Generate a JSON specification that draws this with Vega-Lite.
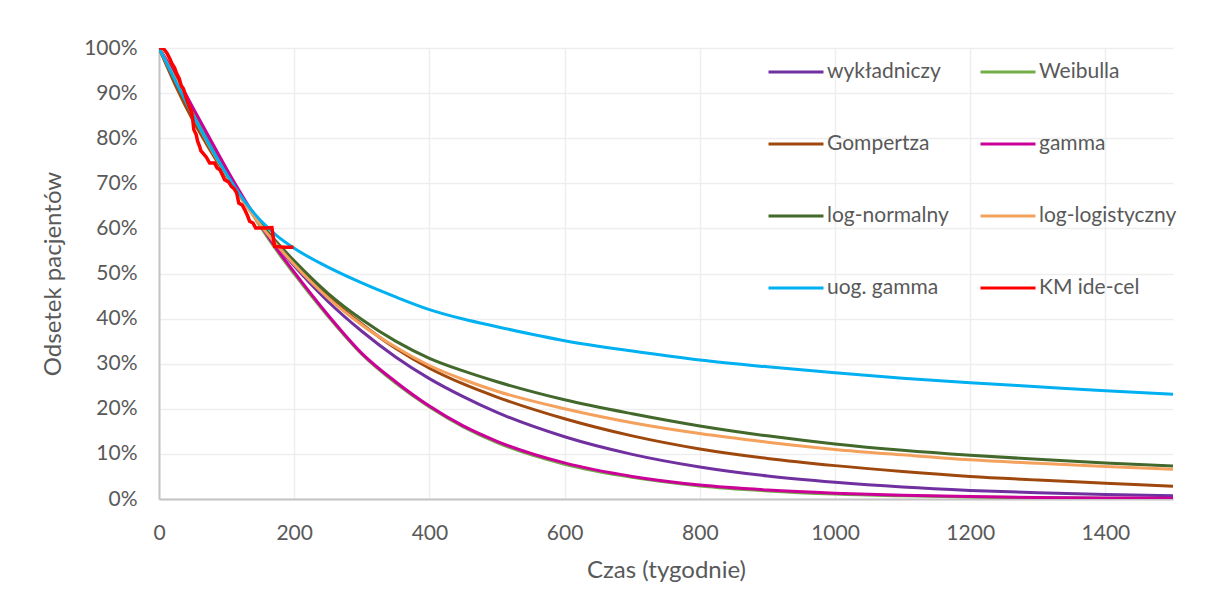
{
  "$schema": "https://vega.github.io/schema/vega-lite/v6.json",
  "width": 1014,
  "height": 451,
  "autosize": {"type": "none"},
  "padding": {"left": 159, "top": 48, "right": 34, "bottom": 113},
  "background": "#ffffff",
  "config": {
    "font": "Lato",
    "view": {"stroke": null},
    "axis": {
      "labelFont": "Lato",
      "labelColor": "#595959",
      "labelFontSize": 21,
      "titleFont": "Lato",
      "titleColor": "#595959",
      "titleFontSize": 24,
      "titleFontWeight": "normal",
      "ticks": false,
      "tickSize": 0,
      "labelFlush": false,
      "domainColor": "#C4C4C4",
      "domainWidth": 2,
      "gridColor": "#EEEEEE",
      "gridWidth": 1.5
    },
    "legend": {
      "labelFont": "Lato",
      "labelColor": "#595959",
      "labelFontSize": 21,
      "labelLimit": 300
    }
  },
  "datasets": {
    "models": [
      {"t": 0, "p": 100, "m": "wykładniczy"}, {"t": 25, "p": 92.1, "m": "wykładniczy"}, {"t": 50, "p": 84.8, "m": "wykładniczy"}, {"t": 75, "p": 78.1, "m": "wykładniczy"}, {"t": 100, "p": 71.9, "m": "wykładniczy"}, {"t": 125, "p": 66.2, "m": "wykładniczy"}, {"t": 150, "p": 61.0, "m": "wykładniczy"}, {"t": 175, "p": 56.1, "m": "wykładniczy"}, {"t": 200, "p": 51.7, "m": "wykładniczy"}, {"t": 250, "p": 43.8, "m": "wykładniczy"}, {"t": 300, "p": 37.2, "m": "wykładniczy"}, {"t": 350, "p": 31.5, "m": "wykładniczy"}, {"t": 400, "p": 26.7, "m": "wykładniczy"}, {"t": 450, "p": 22.7, "m": "wykładniczy"}, {"t": 500, "p": 19.2, "m": "wykładniczy"}, {"t": 600, "p": 13.8, "m": "wykładniczy"}, {"t": 700, "p": 9.9, "m": "wykładniczy"}, {"t": 800, "p": 7.1, "m": "wykładniczy"}, {"t": 900, "p": 5.1, "m": "wykładniczy"}, {"t": 1000, "p": 3.7, "m": "wykładniczy"}, {"t": 1100, "p": 2.65, "m": "wykładniczy"}, {"t": 1200, "p": 1.9, "m": "wykładniczy"}, {"t": 1300, "p": 1.37, "m": "wykładniczy"}, {"t": 1400, "p": 0.98, "m": "wykładniczy"}, {"t": 1500, "p": 0.71, "m": "wykładniczy"},

      {"t": 0, "p": 100, "m": "Weibulla"}, {"t": 25, "p": 93.6, "m": "Weibulla"}, {"t": 50, "p": 86.5, "m": "Weibulla"}, {"t": 75, "p": 79.6, "m": "Weibulla"}, {"t": 100, "p": 72.8, "m": "Weibulla"}, {"t": 125, "p": 66.4, "m": "Weibulla"}, {"t": 150, "p": 60.4, "m": "Weibulla"}, {"t": 175, "p": 54.9, "m": "Weibulla"}, {"t": 200, "p": 49.9, "m": "Weibulla"}, {"t": 250, "p": 40.5, "m": "Weibulla"}, {"t": 300, "p": 32.1, "m": "Weibulla"}, {"t": 350, "p": 25.7, "m": "Weibulla"}, {"t": 400, "p": 20.4, "m": "Weibulla"}, {"t": 450, "p": 16.0, "m": "Weibulla"}, {"t": 500, "p": 12.5, "m": "Weibulla"}, {"t": 600, "p": 7.7, "m": "Weibulla"}, {"t": 700, "p": 4.8, "m": "Weibulla"}, {"t": 800, "p": 2.9, "m": "Weibulla"}, {"t": 900, "p": 1.8, "m": "Weibulla"}, {"t": 1000, "p": 1.1, "m": "Weibulla"}, {"t": 1100, "p": 0.7, "m": "Weibulla"}, {"t": 1200, "p": 0.42, "m": "Weibulla"}, {"t": 1300, "p": 0.26, "m": "Weibulla"}, {"t": 1400, "p": 0.16, "m": "Weibulla"}, {"t": 1500, "p": 0.1, "m": "Weibulla"},

      {"t": 0, "p": 100, "m": "Gompertza"}, {"t": 25, "p": 91.5, "m": "Gompertza"}, {"t": 50, "p": 84.0, "m": "Gompertza"}, {"t": 75, "p": 77.5, "m": "Gompertza"}, {"t": 100, "p": 71.5, "m": "Gompertza"}, {"t": 125, "p": 66.0, "m": "Gompertza"}, {"t": 150, "p": 61.0, "m": "Gompertza"}, {"t": 175, "p": 56.5, "m": "Gompertza"}, {"t": 200, "p": 52.4, "m": "Gompertza"}, {"t": 250, "p": 45.0, "m": "Gompertza"}, {"t": 300, "p": 38.8, "m": "Gompertza"}, {"t": 350, "p": 33.4, "m": "Gompertza"}, {"t": 400, "p": 29.0, "m": "Gompertza"}, {"t": 450, "p": 25.5, "m": "Gompertza"}, {"t": 500, "p": 22.6, "m": "Gompertza"}, {"t": 600, "p": 17.8, "m": "Gompertza"}, {"t": 700, "p": 14.0, "m": "Gompertza"}, {"t": 800, "p": 11.1, "m": "Gompertza"}, {"t": 900, "p": 9.0, "m": "Gompertza"}, {"t": 1000, "p": 7.4, "m": "Gompertza"}, {"t": 1100, "p": 6.1, "m": "Gompertza"}, {"t": 1200, "p": 5.0, "m": "Gompertza"}, {"t": 1300, "p": 4.2, "m": "Gompertza"}, {"t": 1400, "p": 3.5, "m": "Gompertza"}, {"t": 1500, "p": 2.8, "m": "Gompertza"},

      {"t": 0, "p": 100, "m": "gamma"}, {"t": 25, "p": 93.8, "m": "gamma"}, {"t": 50, "p": 86.8, "m": "gamma"}, {"t": 75, "p": 80.0, "m": "gamma"}, {"t": 100, "p": 73.2, "m": "gamma"}, {"t": 125, "p": 66.8, "m": "gamma"}, {"t": 150, "p": 60.8, "m": "gamma"}, {"t": 175, "p": 55.3, "m": "gamma"}, {"t": 200, "p": 50.3, "m": "gamma"}, {"t": 250, "p": 40.8, "m": "gamma"}, {"t": 300, "p": 32.3, "m": "gamma"}, {"t": 350, "p": 26.0, "m": "gamma"}, {"t": 400, "p": 20.6, "m": "gamma"}, {"t": 450, "p": 16.2, "m": "gamma"}, {"t": 500, "p": 12.8, "m": "gamma"}, {"t": 600, "p": 8.0, "m": "gamma"}, {"t": 700, "p": 5.0, "m": "gamma"}, {"t": 800, "p": 3.1, "m": "gamma"}, {"t": 900, "p": 2.0, "m": "gamma"}, {"t": 1000, "p": 1.3, "m": "gamma"}, {"t": 1100, "p": 0.85, "m": "gamma"}, {"t": 1200, "p": 0.55, "m": "gamma"}, {"t": 1300, "p": 0.35, "m": "gamma"}, {"t": 1400, "p": 0.24, "m": "gamma"}, {"t": 1500, "p": 0.15, "m": "gamma"},

      {"t": 0, "p": 100, "m": "log-normalny"}, {"t": 25, "p": 93.0, "m": "log-normalny"}, {"t": 50, "p": 85.5, "m": "log-normalny"}, {"t": 75, "p": 78.5, "m": "log-normalny"}, {"t": 100, "p": 72.0, "m": "log-normalny"}, {"t": 125, "p": 66.2, "m": "log-normalny"}, {"t": 150, "p": 61.2, "m": "log-normalny"}, {"t": 175, "p": 56.8, "m": "log-normalny"}, {"t": 200, "p": 52.8, "m": "log-normalny"}, {"t": 250, "p": 45.6, "m": "log-normalny"}, {"t": 300, "p": 39.8, "m": "log-normalny"}, {"t": 350, "p": 35.0, "m": "log-normalny"}, {"t": 400, "p": 31.2, "m": "log-normalny"}, {"t": 450, "p": 28.4, "m": "log-normalny"}, {"t": 500, "p": 26.0, "m": "log-normalny"}, {"t": 600, "p": 22.0, "m": "log-normalny"}, {"t": 700, "p": 18.9, "m": "log-normalny"}, {"t": 800, "p": 16.2, "m": "log-normalny"}, {"t": 900, "p": 14.0, "m": "log-normalny"}, {"t": 1000, "p": 12.2, "m": "log-normalny"}, {"t": 1100, "p": 10.8, "m": "log-normalny"}, {"t": 1200, "p": 9.7, "m": "log-normalny"}, {"t": 1300, "p": 8.8, "m": "log-normalny"}, {"t": 1400, "p": 8.0, "m": "log-normalny"}, {"t": 1500, "p": 7.3, "m": "log-normalny"},

      {"t": 0, "p": 100, "m": "log-logistyczny"}, {"t": 25, "p": 92.8, "m": "log-logistyczny"}, {"t": 50, "p": 85.3, "m": "log-logistyczny"}, {"t": 75, "p": 78.2, "m": "log-logistyczny"}, {"t": 100, "p": 71.8, "m": "log-logistyczny"}, {"t": 125, "p": 66.0, "m": "log-logistyczny"}, {"t": 150, "p": 60.8, "m": "log-logistyczny"}, {"t": 175, "p": 56.2, "m": "log-logistyczny"}, {"t": 200, "p": 52.0, "m": "log-logistyczny"}, {"t": 250, "p": 44.6, "m": "log-logistyczny"}, {"t": 300, "p": 38.6, "m": "log-logistyczny"}, {"t": 350, "p": 33.7, "m": "log-logistyczny"}, {"t": 400, "p": 29.6, "m": "log-logistyczny"}, {"t": 450, "p": 26.5, "m": "log-logistyczny"}, {"t": 500, "p": 23.9, "m": "log-logistyczny"}, {"t": 600, "p": 20.0, "m": "log-logistyczny"}, {"t": 700, "p": 16.9, "m": "log-logistyczny"}, {"t": 800, "p": 14.5, "m": "log-logistyczny"}, {"t": 900, "p": 12.6, "m": "log-logistyczny"}, {"t": 1000, "p": 11.0, "m": "log-logistyczny"}, {"t": 1100, "p": 9.8, "m": "log-logistyczny"}, {"t": 1200, "p": 8.7, "m": "log-logistyczny"}, {"t": 1300, "p": 7.9, "m": "log-logistyczny"}, {"t": 1400, "p": 7.2, "m": "log-logistyczny"}, {"t": 1500, "p": 6.6, "m": "log-logistyczny"},

      {"t": 0, "p": 100, "m": "uog. gamma"}, {"t": 25, "p": 92.5, "m": "uog. gamma"}, {"t": 50, "p": 85.2, "m": "uog. gamma"}, {"t": 75, "p": 78.4, "m": "uog. gamma"}, {"t": 100, "p": 72.0, "m": "uog. gamma"}, {"t": 125, "p": 66.4, "m": "uog. gamma"}, {"t": 150, "p": 61.8, "m": "uog. gamma"}, {"t": 175, "p": 58.3, "m": "uog. gamma"}, {"t": 200, "p": 55.6, "m": "uog. gamma"}, {"t": 250, "p": 51.4, "m": "uog. gamma"}, {"t": 300, "p": 47.9, "m": "uog. gamma"}, {"t": 350, "p": 44.8, "m": "uog. gamma"}, {"t": 400, "p": 42.0, "m": "uog. gamma"}, {"t": 450, "p": 39.9, "m": "uog. gamma"}, {"t": 500, "p": 38.2, "m": "uog. gamma"}, {"t": 600, "p": 35.1, "m": "uog. gamma"}, {"t": 700, "p": 32.8, "m": "uog. gamma"}, {"t": 800, "p": 30.8, "m": "uog. gamma"}, {"t": 900, "p": 29.3, "m": "uog. gamma"}, {"t": 1000, "p": 28.0, "m": "uog. gamma"}, {"t": 1100, "p": 26.8, "m": "uog. gamma"}, {"t": 1200, "p": 25.8, "m": "uog. gamma"}, {"t": 1300, "p": 24.9, "m": "uog. gamma"}, {"t": 1400, "p": 24.0, "m": "uog. gamma"}, {"t": 1500, "p": 23.2, "m": "uog. gamma"}
    ],
    "km": [
      {"t": 0, "p": 100, "m": "KM ide-cel"}, {"t": 5, "p": 100, "m": "KM ide-cel"}, {"t": 8, "p": 99.6, "m": "KM ide-cel"}, {"t": 12, "p": 98.8, "m": "KM ide-cel"}, {"t": 16, "p": 97.6, "m": "KM ide-cel"}, {"t": 19, "p": 96.6, "m": "KM ide-cel"}, {"t": 23, "p": 95.6, "m": "KM ide-cel"}, {"t": 26, "p": 94.4, "m": "KM ide-cel"}, {"t": 30, "p": 93.2, "m": "KM ide-cel"}, {"t": 33, "p": 91.6, "m": "KM ide-cel"}, {"t": 36, "p": 91.0, "m": "KM ide-cel"}, {"t": 38, "p": 90.0, "m": "KM ide-cel"}, {"t": 41, "p": 88.6, "m": "KM ide-cel"}, {"t": 43, "p": 87.8, "m": "KM ide-cel"}, {"t": 46, "p": 86.6, "m": "KM ide-cel"}, {"t": 48, "p": 85.9, "m": "KM ide-cel"}, {"t": 50, "p": 84.1, "m": "KM ide-cel"}, {"t": 51.5, "p": 81.9, "m": "KM ide-cel"}, {"t": 55, "p": 80.8, "m": "KM ide-cel"}, {"t": 57, "p": 79.4, "m": "KM ide-cel"}, {"t": 60, "p": 78.2, "m": "KM ide-cel"}, {"t": 62, "p": 77.2, "m": "KM ide-cel"}, {"t": 65, "p": 76.7, "m": "KM ide-cel"}, {"t": 70, "p": 75.8, "m": "KM ide-cel"}, {"t": 75, "p": 74.5, "m": "KM ide-cel"}, {"t": 82, "p": 74.5, "m": "KM ide-cel"}, {"t": 86, "p": 73.4, "m": "KM ide-cel"}, {"t": 90, "p": 73.0, "m": "KM ide-cel"}, {"t": 94, "p": 71.8, "m": "KM ide-cel"}, {"t": 97, "p": 70.8, "m": "KM ide-cel"}, {"t": 103, "p": 70.3, "m": "KM ide-cel"}, {"t": 107, "p": 69.3, "m": "KM ide-cel"}, {"t": 111, "p": 68.8, "m": "KM ide-cel"}, {"t": 115, "p": 67.8, "m": "KM ide-cel"}, {"t": 118, "p": 65.6, "m": "KM ide-cel"}, {"t": 123, "p": 65.2, "m": "KM ide-cel"}, {"t": 127, "p": 64.1, "m": "KM ide-cel"}, {"t": 131, "p": 62.8, "m": "KM ide-cel"}, {"t": 134, "p": 61.6, "m": "KM ide-cel"}, {"t": 139, "p": 61.2, "m": "KM ide-cel"}, {"t": 143, "p": 60.1, "m": "KM ide-cel"}, {"t": 158, "p": 60.1, "m": "KM ide-cel"}, {"t": 167, "p": 60.2, "m": "KM ide-cel"}, {"t": 171, "p": 56.0, "m": "KM ide-cel"}, {"t": 186, "p": 55.8, "m": "KM ide-cel"}, {"t": 199, "p": 55.8, "m": "KM ide-cel"}
    ]
  },
  "encoding": {
    "x": {
      "field": "t",
      "type": "quantitative",
      "scale": {"domain": [0, 1500], "nice": false, "zero": false},
      "axis": {
        "title": "Czas (tygodnie)",
        "values": [0, 200, 400, 600, 800, 1000, 1200, 1400],
        "format": "d",
        "labelPadding": 23,
        "titlePadding": 15,
        "grid": true
      }
    },
    "y": {
      "field": "p",
      "type": "quantitative",
      "scale": {"domain": [0, 100], "nice": false},
      "axis": {
        "title": "Odsetek pacjentów",
        "values": [0, 10, 20, 30, 40, 50, 60, 70, 80, 90, 100],
        "labelExpr": "datum.value + '%'",
        "labelPadding": 22,
        "titlePadding": 18,
        "grid": true
      }
    },
    "color": {
      "field": "m",
      "type": "nominal",
      "scale": {
        "domain": ["wykładniczy", "Weibulla", "Gompertza", "gamma", "log-normalny", "log-logistyczny", "uog. gamma", "KM ide-cel"],
        "range": ["#7030A0", "#70AD47", "#9E480E", "#CC0099", "#43682B", "#F4A15D", "#00B0F0", "#FF0000"]
      },
      "legend": {
        "title": null,
        "orient": "none",
        "direction": "horizontal",
        "legendX": 608,
        "legendY": -5,
        "columns": 2,
        "symbolType": "stroke",
        "symbolSize": 3025,
        "symbolStrokeWidth": 3,
        "labelOffset": 2,
        "columnPadding": 25,
        "rowPadding": 33,
        "padding": 0
      }
    }
  },
  "layer": [
    {
      "data": {"name": "models"},
      "mark": {"type": "line", "interpolate": "monotone", "strokeWidth": 3, "clip": true}
    },
    {
      "data": {"name": "km"},
      "mark": {"type": "line", "interpolate": "linear", "strokeWidth": 3.5, "clip": true}
    }
  ]
}
